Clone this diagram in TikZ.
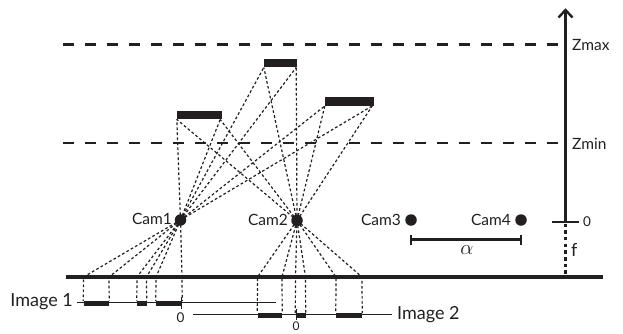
\documentclass[tikz,border=0pt]{standalone}
\usepackage{fontspec}
\setmainfont{Lato}
\definecolor{ink}{HTML}{231F20}
\tikzset{
  ink/.style={color=ink},
  lev/.style={ink,line width=2.6pt,dash pattern=on 11pt off 11pt},
  ray/.style={ink,line width=1.2pt,dash pattern=on 2.7pt off 2.3pt},
  cam/.style={circle,fill=ink,minimum size=11.5pt,inner sep=0pt},
  obj/.style={fill=ink,minimum height=8.5pt,inner sep=0pt},
  imgbar/.style={fill=ink,minimum height=4.5pt,inner sep=0pt},
  lab/.style={ink,font=\fontsize{15.5pt}{17pt}\selectfont,inner sep=0pt},
  big/.style={ink,font=\fontsize{18pt}{20pt}\selectfont,inner sep=0pt},
  small/.style={ink,font=\fontsize{13.5pt}{15pt}\selectfont,inner sep=0pt},
  thin/.style={ink,line width=1pt},
  heavy/.style={ink,line width=3pt}
}
\begin{document}
\begin{tikzpicture}[x=1pt,y=-1pt]
\useasboundingbox (0,0) rectangle (623,333);
% cameras
\node[cam] (c1) at (180.5,220) {};
\node[cam] (c2) at (297,220.5) {};
\node[cam] (c3) at (411,220) {};
\node[cam] (c4) at (521,220) {};
\node[lab,anchor=east] (l1) at (172,218.5) {Cam1};
\node[lab,anchor=east] (l2) at (288,220) {Cam2};
\node[lab,anchor=east] (l3) at (401,219.5) {Cam3};
\node[lab,anchor=east] (l4) at (511,219.5) {Cam4};
% objects
\node[obj,minimum width=45pt] (ol) at (199.5,115) {};
\node[obj,minimum width=33pt] (ot) at (280.5,63) {};
\node[obj,minimum width=49pt] (or) at (349.5,101.5) {};
% levels and axis
\coordinate (zb) at (565.5,277);
\coordinate (z0) at (565.5,221.5);
\coordinate (ztop) at (565.5,10);
\coordinate (zmaxl) at (63,44.5);
\coordinate (zmaxr) at (565.5,44.5);
\coordinate (zminl) at (63,143);
\coordinate (zminr) at (565.5,143);
\draw[lev] (zmaxl) -- (zmaxr);
\draw[lev] (zminl) -- (zminr);
\coordinate (bl) at (66,277);
\coordinate (br) at (603,277);
\draw[heavy,line width=3.2pt] (bl) -- (br);
\draw[heavy] (z0) -- (ztop);
\coordinate (ha) at (558.5,17.5);
\coordinate (hb) at (572.5,17.5);
\draw[heavy,line width=2.4pt] (ha) -- (ztop) -- (hb);
\coordinate (tl) at (552,221.5);
\coordinate (tr) at (579,221.5);
\draw[ink,line width=2pt] (tl) -- (tr);
\draw[ink,line width=2.8pt,dash pattern=on 3.5pt off 3.2pt] (z0) ++(0,2) -- (zb);
\node[lab,anchor=west] (zmax) at (572,45.5) {Zmax};
\node[lab,anchor=west] (zmin) at (572,144) {Zmin};
\node[small,anchor=west] (zero) at (583,221.5) {0};
\node[big,anchor=west] (f) at (571,249.5) {f};
% alpha
\draw[ink,line width=2.4pt] (c3.center |- 0,239.5) coordinate (a1) -- (c4.center |- 0,239.5) coordinate (a2);
\draw[ink,line width=2pt] (411,234.5) -- (411,244.5);
\draw[ink,line width=2pt] (521,234.5) -- (521,244.5);
\node[ink,inner sep=0pt,font=\fontsize{20pt}{22pt}\selectfont] (al) at (467,250) {$\alpha$};
% upper rays
\foreach \c in {c1,c2} {
  \draw[ray] (\c.center) -- (ol.south west);
  \draw[ray] (\c.center) -- ([xshift=-2pt]ol.south east);
  \draw[ray] (\c.center) -- (ot.south west);
  \draw[ray] (\c.center) -- ([xshift=-1pt]ot.south east);
  \draw[ray] (\c.center) -- (or.south west);
  \draw[ray] (\c.center) -- ([xshift=-2pt]or.south east);
}
% image lines
\coordinate (i1a) at (77,302);
\coordinate (i1b) at (276,302);
\coordinate (i2a) at (193,314);
\coordinate (i2b) at (392,314);
\draw[thin] (i1a) -- (i1b);
\draw[thin] (i2a) -- (i2b);
\draw[ink,line width=1pt] (181.5,297) -- (181.5,309);
\draw[ink,line width=1pt] (296,309) -- (296,320);
\node[big,anchor=east] (im1) at (73,301.5) {Image 1};
\node[big,anchor=west] (im2) at (397,314.5) {Image 2};
\node[small] (z1) at (180.5,318) {0};
\node[ink,inner sep=0pt,font=\fontsize{12pt}{13pt}\selectfont] (z2) at (296,326.5) {0};
% image segments: camera -> line -> bar
\foreach \xa/\xb/\n in {83.5/109/a,137/146.5/b,156/182/c} {
  \pgfmathsetmacro{\w}{\xb-\xa}
  \pgfmathsetmacro{\m}{(\xa+\xb)/2}
  \node[imgbar,minimum width=\w pt] (s\n) at (\m,303.5) {};
  \coordinate (pa\n) at (\xa,277);
  \coordinate (pb\n) at (\xb,277);
  \draw[ray] (c1.center) -- (pa\n) -- (s\n.north west);
  \draw[ray] (c1.center) -- (pb\n) -- (s\n.north east);
}
\foreach \xa/\xb/\n in {257.5/282/d,295.5/305.5/e,336/362/g} {
  \pgfmathsetmacro{\w}{\xb-\xa}
  \pgfmathsetmacro{\m}{(\xa+\xb)/2}
  \node[imgbar,minimum width=\w pt] (s\n) at (\m,315.5) {};
  \coordinate (pa\n) at (\xa,277);
  \coordinate (pb\n) at (\xb,277);
  \draw[ray] (c2.center) -- (pa\n) -- (s\n.north west);
  \draw[ray] (c2.center) -- (pb\n) -- (s\n.north east);
}
\end{tikzpicture}
\end{document}
